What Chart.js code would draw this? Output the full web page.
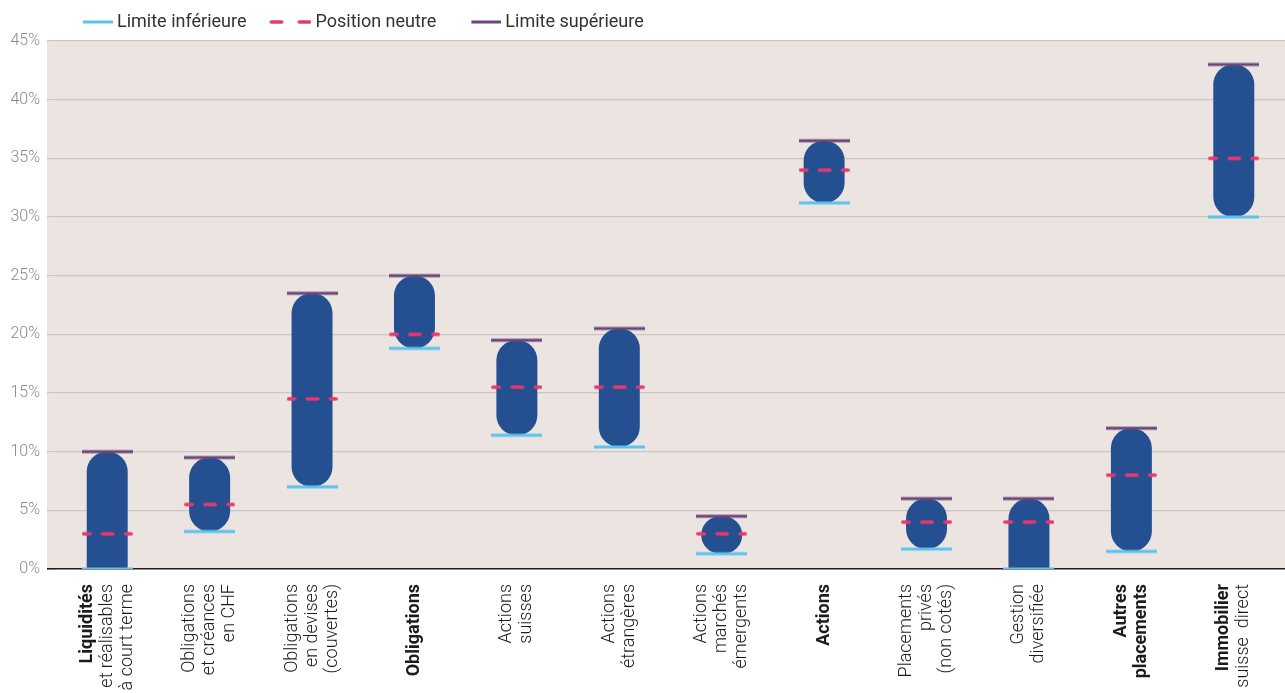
<!DOCTYPE html>
<html lang="fr">
<head>
<meta charset="utf-8">
<title>Marges de fluctuation de l'allocation</title>
<script src="https://cdn.jsdelivr.net/npm/chart.js@4.4.1/dist/chart.umd.min.js"></script>
<style>
  html, body { margin: 0; padding: 0; background: #ffffff; }
  #chart { display: block; }
</style>
</head>
<body>
<canvas id="chart" width="1285" height="693"></canvas>
<script>
// ========== DONNÉES ==========
const categories = [
    ['Liquidités', 'et réalisables', 'à court terme'],
    ['Obligations', 'et créances', 'en CHF'],
    ['Obligations', 'en devises', '(couvertes)'],
    ['Obligations'],
    ['Actions', 'suisses'],
    ['Actions', 'étrangères'],
    ['Actions', 'marchés', 'émergents'],
    ['Actions'],
    ['Placements', 'privés', '(non cotés)'],
    ['Gestion', 'diversifiée'],
    ['Autres', 'placements'],
    ['Immobilier', 'suisse  direct']
];
// nombre de lignes en gras au début de chaque libellé
const boldLines = [1, 0, 0, 1, 0, 0, 0, 1, 0, 0, 2, 1];

const limiteInf      = [0, 3.2, 7, 18.8, 11.4, 10.4, 1.3, 31.2, 1.7, 0, 1.5, 30];
const positionNeutre = [3, 5.5, 14.5, 20, 15.5, 15.5, 3, 34, 4, 4, 8, 35];
const limiteSup      = [10, 9.5, 23.5, 25, 19.5, 20.5, 4.5, 36.5, 6, 6, 12, 43];

const seriesNames = ['Limite inférieure', 'Position neutre', 'Limite supérieure'];
const Y_MAX = 45;
const Y_STEP = 5;

// ========== STYLE ==========
const BAR_COLOR = '#244f90';
const COL_INF = '#5bc2ec';
const COL_NEUTRE = '#e8386f';
const COL_SUP = '#6b4479';
const PLOT_BG = '#ebe4e1';
const GRID_COLOR = '#ccc6c3';
const TICK_LEN = 9;
const LEGEND_SHIFT = 48;

// petites images utilisées comme pointStyle (traits horizontaux)
function makeMark(color, width, segments, round) {
    const c = document.createElement('canvas');
    c.width = width; c.height = 6;
    const g = c.getContext('2d');
    g.strokeStyle = color;
    g.lineWidth = round ? 3.5 : 3;
    g.lineCap = round ? 'round' : 'butt';
    const inset = round ? 1.75 : 0;
    segments.forEach(([a, b]) => {
        g.beginPath();
        g.moveTo(a + inset, 3);
        g.lineTo(b - inset, 3);
        g.stroke();
    });
    return c;
}

const marks = {
    inf:    makeMark(COL_INF, 51, [[0, 51]], false),
    neutre: makeMark(COL_NEUTRE, 51, [[0, 10], [19, 33], [42, 51]], true),
    sup:    makeMark(COL_SUP, 51, [[0, 51]], false)
};
const legendMarks = [
    null,
    makeMark(COL_INF, 58, [[28, 58]], false),
    makeMark(COL_NEUTRE, 58, [[16, 30], [44, 58]], true),
    makeMark(COL_SUP, 58, [[28, 58]], false)
];

// ========== PLUGINS ==========
const plotBackground = {
    id: 'plotBackground',
    beforeDraw(chart) {
        const { ctx, chartArea, scales: { y } } = chart;
        const left = y.right - TICK_LEN;
        ctx.save();
        ctx.fillStyle = PLOT_BG;
        ctx.fillRect(left, chartArea.top, chartArea.right - left, chartArea.bottom - chartArea.top);
        ctx.restore();
    }
};

const legendShift = {
    id: 'legendShift',
    afterLayout(chart) {
        if (chart.legend) {
            chart.legend.left += LEGEND_SHIFT;
            chart.legend.right += LEGEND_SHIFT;
        }
    }
};

// libellés verticaux, avec lignes en gras
const xLabels = {
    id: 'xLabels',
    afterDraw(chart) {
        const { ctx, scales: { x } } = chart;
        const lh = 20;
        ctx.save();
        ctx.fillStyle = '#1c1c1c';
        ctx.textAlign = 'right';
        ctx.textBaseline = 'middle';
        categories.forEach((lines, i) => {
            const px = x.getPixelForValue(i);
            lines.forEach((line, j) => {
                ctx.save();
                ctx.translate(px + (j - (lines.length - 1) / 2) * lh, x.top + 15);
                ctx.rotate(-Math.PI / 2);
                ctx.font = (j < boldLines[i] ? '700 ' : '300 ') + '18px Roboto';
                ctx.fillText(line, 0, 0);
                ctx.restore();
            });
        });
        ctx.restore();
    }
};

// ========== GRAPHIQUE ==========
const ctx = document.getElementById('chart').getContext('2d');
new Chart(ctx, {
    type: 'bar',
    data: {
        labels: categories.map(l => l.join(' ')),
        datasets: [
            {
                label: 'Fourchette',
                data: categories.map((_, i) => [limiteInf[i], limiteSup[i]]),
                backgroundColor: BAR_COLOR,
                borderSkipped: false,
                borderRadius: c => limiteInf[c.dataIndex] === 0
                    ? { topLeft: 20, topRight: 20, bottomLeft: 0, bottomRight: 0 }
                    : 20,
                barPercentage: 0.4,
                categoryPercentage: 1,
                order: 10
            },
            {
                type: 'line', label: seriesNames[0], data: limiteInf,
                showLine: false, pointStyle: marks.inf, borderColor: COL_INF, order: 3
            },
            {
                type: 'line', label: seriesNames[1], data: positionNeutre,
                showLine: false, pointStyle: marks.neutre, borderColor: COL_NEUTRE, order: 2
            },
            {
                type: 'line', label: seriesNames[2], data: limiteSup,
                showLine: false, pointStyle: marks.sup, borderColor: COL_SUP, order: 1
            }
        ]
    },
    options: {
        responsive: false,
        animation: false,
        events: [],
        layout: { autoPadding: false, padding: { top: 1, right: 0, left: 0, bottom: 0 } },
        plugins: {
            tooltip: { enabled: false },
            legend: {
                position: 'top',
                align: 'start',
                labels: {
                    usePointStyle: true,
                    pointStyleWidth: 48,
                    padding: 12,
                    color: '#333333',
                    font: { family: 'Roboto', size: 18, weight: '400' },
                    generateLabels: chart =>
                        Chart.defaults.plugins.legend.labels.generateLabels(chart)
                            .filter(item => item.datasetIndex > 0)
                            .sort((a, b) => a.datasetIndex - b.datasetIndex)
                            .map(item => ({ ...item, pointStyle: legendMarks[item.datasetIndex] }))
                }
            }
        },
        scales: {
            x: {
                grid: { display: false },
                border: { display: false },
                ticks: { display: false },
                afterFit: scale => { scale.height = 124; }
            },
            y: {
                min: 0,
                max: Y_MAX,
                border: { display: false },
                grid: {
                    drawTicks: true,
                    tickLength: TICK_LEN,
                    color: c => c.tick && c.tick.value === 0 ? '#1e1e1e' : GRID_COLOR,
                    lineWidth: c => c.tick && c.tick.value === 0 ? 1.6 : 1.2
                },
                ticks: {
                    stepSize: Y_STEP,
                    padding: 7,
                    color: '#8a8a8a',
                    font: { family: 'Roboto', size: 16, weight: '300' },
                    callback: v => v + '%'
                },
                afterFit: scale => { scale.width = 56; }
            }
        }
    },
    plugins: [plotBackground, legendShift, xLabels]
});
</script>
</body>
</html>
